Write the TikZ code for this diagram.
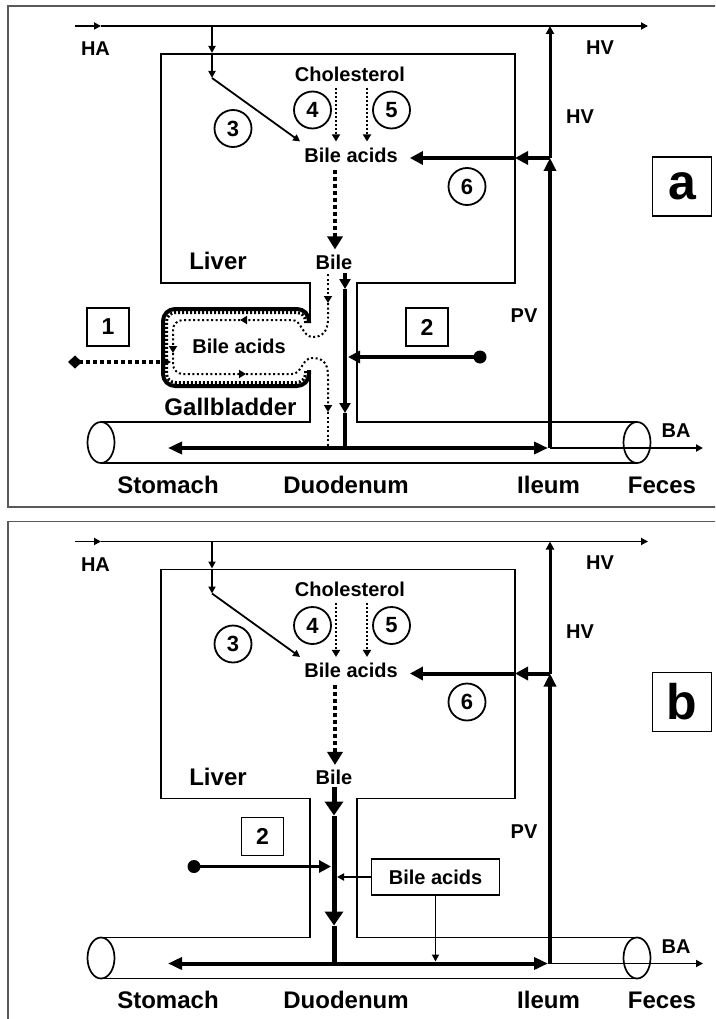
\documentclass[tikz,border=0pt]{standalone}
\usepackage{fontspec}
\setmainfont{Liberation Sans}
\usetikzlibrary{arrows.meta,positioning,calc}
\tikzset{
  lbl/.style={font=\fontsize{20}{24}\selectfont\bfseries,inner sep=0pt},
  organ/.style={font=\fontsize{24}{28}\selectfont\bfseries,inner sep=0pt},
  stepcirc/.style={circle,draw,line width=1.8pt,minimum size=37pt,inner sep=0pt,font=\fontsize{22}{26}\selectfont\bfseries},
  drugbox/.style={draw,line width=1.8pt,minimum width=42pt,minimum height=38pt,inner sep=0pt,font=\fontsize{23}{26}\selectfont\bfseries},
  panelbox/.style={draw,line width=1.6pt,minimum width=59pt,minimum height=59pt,inner sep=0pt,font=\fontsize{50}{50}\selectfont\bfseries},
  panelframe/.style={draw=black!65,line width=1.6pt},
  wall/.style={line width=1.7pt},
  vessel/.style={line width=1.8pt},
  tipsm/.style={-{Triangle[length=7pt,width=7pt]}},
  flowfat/.style={line width=4pt,-{Triangle[length=13pt,width=13pt]}},
  synth/.style={line width=2pt,dash pattern=on 2pt off 2pt,-{Triangle[length=7pt,width=8pt]}},
  bileflow/.style={line width=4.5pt,dash pattern=on 4pt off 3pt,-{Triangle[length=13pt,width=15pt]}},
  gbline/.style={line width=2pt,dash pattern=on 2pt off 2.5pt},
  gbflow/.style={gbline,-{Triangle[length=7pt,width=8pt]}},
  dotend/.style={circle,fill,inner sep=0pt,minimum size=13pt},
}
\begin{document}
\begin{tikzpicture}[x=1pt,y=-1pt]
\useasboundingbox (0,0) rectangle (715,1019);
\clip (0,0) rectangle (715,1019);

% parts shared by both panels
\foreach \p/\dy/\bx in {a/0/345,b/515.5/334}{
\begin{scope}[yshift=-\dy pt]
  \draw[panelframe] (8,6) rectangle (740,507);
  % hepatic artery and vein
  \coordinate (\p-haL) at (75,26);
  \coordinate (\p-haM) at (101,26);
  \coordinate (\p-haJ) at (212,26);
  \coordinate (\p-hvR) at (648,26);
  \coordinate (\p-habM) at (212,53);
  \coordinate (\p-habE) at (212,78);
  \draw[vessel,tipsm] (\p-haL) -- (\p-haM);
  \draw[vessel,tipsm] (\p-haM) -- (\p-hvR);
  \draw[vessel,tipsm] (\p-haJ) -- (\p-habM);
  \draw[vessel,tipsm] (\p-habM) -- (\p-habE);
  % liver, duct and gut wall
  \draw[wall] (310,323) -- (310,283) -- (161,283) -- (161,54) -- (515,54) -- (515,283) -- (357,283) -- (357,422) -- (637,422);
  \draw[wall] (101,422) -- (310,422) -- (310,370);
  \draw[wall] (101,463) -- (637,463);
  \draw[wall] (101,442.5) ellipse [x radius=13.5pt,y radius=20.5pt];
  \draw[wall] (637,442.5) ellipse [x radius=13.5pt,y radius=20.5pt];
  % liver contents
  \node[lbl] (\p-chol) at (350,74) {Cholesterol};
  \node[lbl] (\p-ba) at (351,155) {Bile acids};
  \node[lbl] (\p-bile) at (334,262) {Bile};
  \node[organ] (\p-liver) at (218,261) {Liver};
  \node[stepcirc] (\p-s3) at (233,128.5) {3};
  \node[stepcirc] (\p-s4) at (312.5,110) {4};
  \node[stepcirc] (\p-s5) at (391.5,110) {5};
  \node[stepcirc] (\p-s6) at (467,186.5) {6};
  \draw[vessel,tipsm] (\p-habE) -- ([xshift=-4pt,yshift=6pt]\p-ba.north west);
  \draw[synth] ([xshift=-14pt,yshift=-6pt]\p-chol.south) -- ([xshift=-15pt,yshift=6pt]\p-ba.north);
  \draw[synth] ([xshift=17pt,yshift=-6pt]\p-chol.south) -- ([xshift=16pt,yshift=6pt]\p-ba.north);
  \draw[bileflow] ([xshift=-16pt,yshift=-7pt]\p-ba.south) -- ([xshift=1pt,yshift=5pt]\p-bile.north);
  % portal vein and return to the liver
  \coordinate (\p-pvT) at (550,26);
  \coordinate (\p-pv6) at (550,158);
  \coordinate (\p-pvB) at (550,448);
  \coordinate (\p-w6) at (515,158);
  \draw[line width=4pt,-{Triangle[length=13pt,width=12pt]}] (\p-pvB) -- (\p-pv6);
  \draw[line width=3pt,-{Triangle[length=8pt,width=8pt]}] (\p-pv6) -- (\p-pvT);
  \draw[flowfat] (\p-pv6) -- (\p-w6);
  \draw[flowfat] (\p-w6) -- ([xshift=12pt,yshift=-3pt]\p-ba.east);
  % gut
  \coordinate (\p-duo) at (\bx,448);
  \coordinate (\p-sto) at (168,448);
  \coordinate (\p-ile) at (548,448);
  \coordinate (\p-out) at (703,448);
  \draw[line width=4pt,-{Triangle[length=14pt,width=12pt]}] (\p-duo) -- (\p-sto);
  \draw[line width=4pt,-{Triangle[length=14pt,width=12pt]}] (\p-duo) -- (\p-ile);
  \draw[vessel,tipsm] (\p-pvB) -- (\p-out);
  % labels
  \node[lbl] (\p-ha) at (95.5,49) {HA};
  \node[lbl] (\p-hv1) at (600,47.5) {HV};
  \node[lbl] (\p-hv2) at (580,116.5) {HV};
  \node[lbl] (\p-pv) at (524,316) {PV};
  \node[lbl] (\p-bal) at (676,431) {BA};
  \node[organ,anchor=base] (\p-stom) at (168,493) {Stomach};
  \node[organ,anchor=base] (\p-duod) at (346,493) {Duodenum};
  \node[organ,anchor=base] (\p-ileum) at (548.5,493) {Ileum};
  \node[organ,anchor=base] (\p-fec) at (662,493) {Feces};
  \node[panelbox] (\p-tag) at (682,186.5) {\p};
\end{scope}
}

% panel a: gallbladder storage
\draw[line width=4pt,rounded corners=12pt] (309,323) -- (309,309) -- (163,309) -- (163,386) -- (309,386) -- (309,370);
\draw[line width=3pt,dash pattern=on 2pt off 2pt,rounded corners=9pt] (305.5,323) -- (305.5,312.5) -- (166.5,312.5) -- (166.5,382.5) -- (305.5,382.5) -- (305.5,370);
\node[lbl] (a-gba) at (239,346) {Bile acids};
\node[organ] (a-gb) at (230.5,407) {Gallbladder};
\draw[gbflow] (328,274) -- (328,303);
\draw[gbflow] (328,303) -- (328,318) .. controls (328,332) and (322,337) .. (313,337) .. controls (302,337) and (302,320) .. (292,320) -- (240,320);
\draw[gbflow,rounded corners=10pt] (240,320) -- (173,320) -- (173,353);
\draw[gbflow,rounded corners=10pt] (173,353) -- (173,374) -- (246,374);
\draw[gbflow] (246,374) -- (292,374) .. controls (302,374) and (302,358) .. (312,358) .. controls (322,358) and (328,362) .. (328,376) -- (328,412);
\draw[gbline] (328,412) -- (a-duo -| 328,0);
\node[drugbox] (a-d1) at (108,327) {1};
\coordinate (a-d1s) at (68,362);
\coordinate (a-gbin) at (171,362);
\draw[line width=4pt,dash pattern=on 4pt off 3pt,{Diamond[length=14pt,width=13pt]}-{Triangle[length=10pt,width=11pt]}] (a-d1s) -- (a-gbin);
\coordinate (a-bt) at (345,273);
\coordinate (a-bm1) at (345,289);
\coordinate (a-bm2) at (345,413);
\draw[line width=4pt,-{Triangle[length=10pt,width=11pt]}] (a-bt) -- (a-bm1);
\draw[line width=4pt,-{Triangle[length=10pt,width=11pt]}] (a-bm1) -- (a-bm2);
\draw[line width=4pt] (a-bm2) -- (a-duo);
\node[drugbox] (a-d2) at (427,327) {2};
\node[dotend] (a-dot) at (480,357) {};
\coordinate (a-hit) at (348,357);
\draw[line width=3.5pt,-{Triangle[length=12pt,width=12pt]}] (a-dot.center) -- (a-hit);

% panel b: no gallbladder
\begin{scope}[yshift=-515.5pt]
  \draw[wall] (310,370) -- (310,323);
  \coordinate (b-bt) at (334,271);
  \coordinate (b-bm1) at (334,300);
  \coordinate (b-bm2) at (334,410);
  \draw[line width=5pt,-{Triangle[length=14pt,width=18pt]}] (b-bt) -- (b-bm1);
  \draw[line width=5pt,-{Triangle[length=14pt,width=18pt]}] (b-bm1) -- (b-bm2);
  \draw[line width=5pt] (b-bm2) -- (b-duo);
  \node[drugbox] (b-d2) at (262.5,321) {2};
  \node[dotend] (b-dot) at (194,351) {};
  \coordinate (b-hit) at (331,351);
  \draw[line width=3.5pt,-{Triangle[length=12pt,width=12pt]}] (b-dot.center) -- (b-hit);
  \node[draw,line width=1.8pt,minimum width=128pt,minimum height=36pt,lbl] (b-bab) at (435.5,361.5) {Bile acids};
  \coordinate (b-hit2) at (337,361.5);
  \coordinate (b-drop) at (435.5,446);
  \draw[vessel,tipsm] (b-bab.west) -- (b-hit2);
  \draw[vessel,tipsm] (b-bab.south) -- (b-drop);
\end{scope}
\end{tikzpicture}
\end{document}
